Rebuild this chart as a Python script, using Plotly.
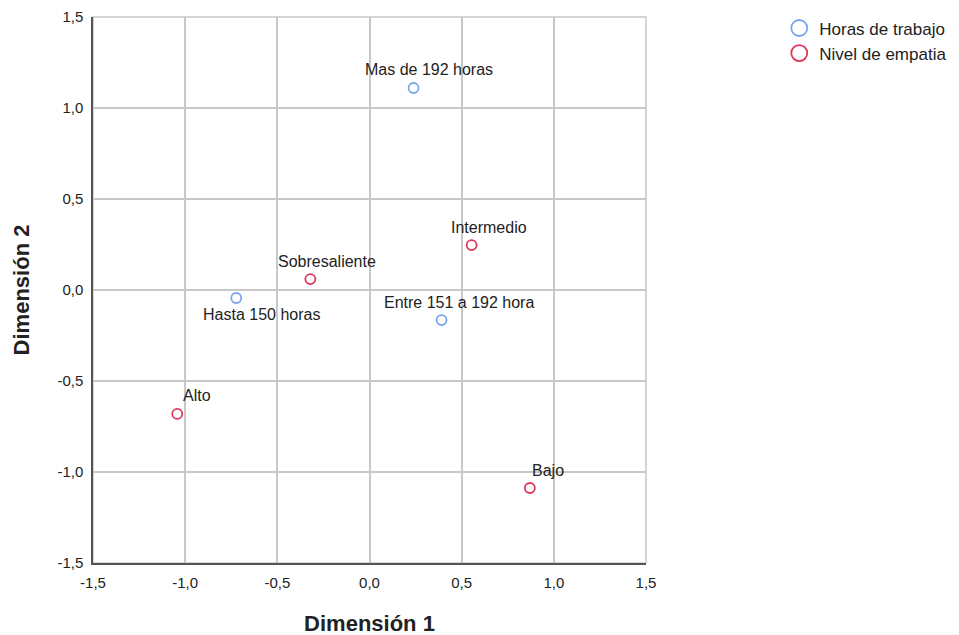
import plotly.graph_objects as go

horas_labels = ["Mas de 192 horas", "Hasta 150 horas", "Entre 151 a 192 hora"]
horas_x = [0.239, -0.723, 0.391]
horas_y = [1.11, -0.044, -0.165]

emp_labels = ["Sobresaliente", "Intermedio", "Alto", "Bajo"]
emp_x = [-0.321, 0.554, -1.043, 0.870]
emp_y = [0.06, 0.247, -0.681, -1.088]

ticks = [-1.5, -1.0, -0.5, 0.0, 0.5, 1.0, 1.5]
tick_text = ["-1,5", "-1,0", "-0,5", "0,0", "0,5", "1,0", "1,5"]

blue = "#7aa6ee"
red = "#e0365c"
font = "Liberation Sans, Arial, sans-serif"

fig = go.Figure()
# real data traces (legend drawn by larger-marker proxy traces)
fig.add_trace(go.Scatter(x=horas_x, y=horas_y, mode="markers", name="Horas de trabajo", showlegend=False,
                         marker=dict(symbol="circle-open", size=10, color=blue, line=dict(width=1.8))))
fig.add_trace(go.Scatter(x=emp_x, y=emp_y, mode="markers", name="Nivel de empatia", showlegend=False,
                         marker=dict(symbol="circle-open", size=10, color=red, line=dict(width=1.8))))
fig.add_trace(go.Scatter(x=[None], y=[None], mode="markers", name="Horas de trabajo",
                         marker=dict(symbol="circle-open", size=16, color=blue, line=dict(width=1.8))))
fig.add_trace(go.Scatter(x=[None], y=[None], mode="markers", name="Nivel de empatia",
                         marker=dict(symbol="circle-open", size=16, color=red, line=dict(width=1.8))))

# label placement relative to each point: (xanchor, xshift, yshift)
label_place = {
    "Mas de 192 horas": ("center", 15, 18),
    "Hasta 150 horas": ("center", 25, -16),
    "Entre 151 a 192 hora": ("center", 17, 18),
    "Sobresaliente": ("center", 17, 18),
    "Intermedio": ("center", 17, 18),
    "Alto": ("left", 4, 18),
    "Bajo": ("left", 0, 18),
}
for lab, xx, yy in list(zip(horas_labels, horas_x, horas_y)) + list(zip(emp_labels, emp_x, emp_y)):
    xa, xs, ys = label_place[lab]
    fig.add_annotation(x=xx, y=yy, text=lab, showarrow=False, xanchor=xa, yanchor="middle",
                       xshift=xs, yshift=ys, font=dict(family=font, size=16, color="#222"))

axis_common = dict(range=[-1.5, 1.5], tickvals=ticks, ticktext=tick_text, showgrid=True,
                   gridcolor="#c8c8c8", gridwidth=1.5, zeroline=False, showline=True,
                   linecolor="#555", linewidth=1.5, ticks="", ticklabelstandoff=5,
                   tickfont=dict(family=font, size=15, color="#222"))
fig.update_xaxes(**axis_common, automargin="bottom",
                 title=dict(text="<b>Dimensión 1</b>", font=dict(family=font, size=22, color="#222"), standoff=26))
fig.update_yaxes(**axis_common, automargin="left",
                 title=dict(text="<b>Dimensión 2</b>", font=dict(family=font, size=22, color="#222"), standoff=22))

fig.add_shape(type="rect", xref="paper", yref="paper", x0=0, y0=0, x1=1, y1=1,
              line=dict(color="#c8c8c8", width=1.5), layer="below")

fig.update_layout(width=959, height=635, plot_bgcolor="white", paper_bgcolor="white",
                  margin=dict(l=85, r=321, t=9, b=80, autoexpand=False), showlegend=True,
                  legend=dict(x=1.241, y=1.012, xanchor="left", yanchor="top",
                              font=dict(family=font, size=17, color="#222"),
                              itemsizing="trace", tracegroupgap=0, itemwidth=30))
fig.write_html("out.html")
